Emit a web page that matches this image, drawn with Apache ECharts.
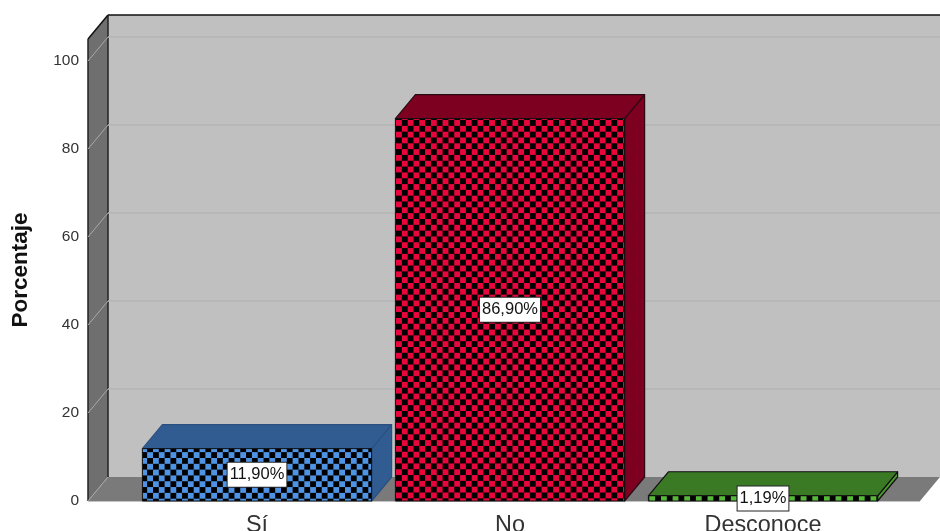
<!DOCTYPE html>
<html><head><meta charset="utf-8">
<style>html,body{margin:0;background:#fff}#c{width:940px;height:531px}</style>
<script src="https://cdn.jsdelivr.net/npm/echarts@6/dist/echarts.min.js"></script></head>
<body><div id="c"></div>
<script>
const categories = ['Sí', 'No', 'Desconoce'];
const values = [11.90, 86.90, 1.19];
const tickValues = [0, 20, 40, 60, 80, 100];
const frontColors = ['#4f94e4', '#e8063c', '#58b83a'];
const topColors = ['#315c92', '#7e0020', '#3a7a24'];
const sideColors = ['#315c92', '#7e0020', '#4c9a30'];
const borderColors = ['#2b5080', '#2a0a12', '#111'];
const patternPhase = [[141.3, 446.3], [396, 120], [649.3, 496]];

const DX = 20, DY = -24, AXIS_GAP = 42.5;

function pattern(color, i) {
  const c = document.createElement('canvas');
  c.width = c.height = 12;
  const g = c.getContext('2d');
  g.fillStyle = '#000'; g.fillRect(0, 0, 12, 12);
  g.fillStyle = color; g.fillRect(0, 0, 6, 6); g.fillRect(6, 6, 6, 6);
  return { image: c, repeat: 'repeat', x: patternPhase[i][0], y: patternPhase[i][1], scaleX: 0.97, scaleY: 0.97 };
}
const patterns = frontColors.map(pattern);

function poly(points, style, z2) {
  return { type: 'polygon', shape: { points }, style, z2: z2 || 0 };
}
function line(x1, y1, x2, y2, stroke, w) {
  return { type: 'line', shape: { x1, y1, x2, y2 }, style: { stroke, lineWidth: w || 1, fill: null } };
}

function renderWalls(params, api) {
  const cs = params.coordSys;
  const L = cs.x - AXIS_GAP, R = 940, T = cs.y, B = cs.y + cs.height, FR = R - 20;
  return { type: 'group', children: [
    poly([[L + DX, T + DY], [R, T + DY], [R, B + DY], [L + DX, B + DY]], { fill: '#c0c0c0' }),
    poly([[L, T], [L + DX, T + DY], [L + DX, B + DY], [L, B]], { fill: '#6f6f6f' }),
    poly([[L, B], [L + DX, B + DY], [R, B + DY], [FR, B]], { fill: '#7a7a7a' }),
    line(L, B + .5, FR, B + .5, '#c4c4c4', 1),
    line(L + DX, T + DY, R, T + DY, '#111', 1.5),
    line(L + DX, T + DY, L + DX, B + DY, '#222', 1.5),
    line(L, T, L + DX, T + DY, '#111', 1.5),
    line(L, T, L, B, '#222', 1.5)
  ]};
}
function renderGrid(params, api) {
  const cs = params.coordSys, L = cs.x - AXIS_GAP, y = api.coord([0, api.value(0)])[1];
  if (api.value(0) === 0) return { type: 'group', children: [line(L, y, L + DX, y + DY, '#a9a9a9', 1)] };
  return { type: 'group', children: [
    line(L, y, L + DX, y + DY, '#a9a9a9', 1),
    line(L + DX, y + DY, 940, y + DY, '#b4b4b4', 1.5)
  ]};
}
function renderBar(params, api) {
  const i = params.dataIndex;
  const [cx, yTop] = api.coord([i, api.value(1)]);
  const yBase = api.coord([i, 0])[1];
  const half = api.size([1, 0])[0] * 0.453;
  const l = cx - half, r = cx + half;
  const bs = { stroke: borderColors[i], lineWidth: 1.2, lineJoin: 'round' };
  return { type: 'group', children: [
    poly([[r, yBase], [r + DX, yBase + DY], [r + DX, yTop + DY], [r, yTop]], Object.assign({ fill: sideColors[i] }, bs)),
    poly([[l, yTop], [l + DX, yTop + DY], [r + DX, yTop + DY], [r, yTop]], Object.assign({ fill: topColors[i] }, bs)),
    { type: 'rect', shape: { x: l, y: yTop, width: r - l, height: yBase - yTop },
      style: Object.assign({ fill: patterns[i] }, bs, { stroke: '#111', lineWidth: 1 }) }
  ]};
}
function renderLabel(params, api) {
  const i = params.dataIndex, v = api.value(1);
  const p = api.coord([i, v / 2]);
  return { type: 'text', z2: 10, style: {
    x: p[0], y: p[1], align: 'center', verticalAlign: 'middle',
    text: v.toFixed(2).replace('.', ',') + '%',
    font: '16.5px "Liberation Sans", Arial, sans-serif', fill: '#111',
    backgroundColor: '#fff', borderColor: '#222', borderWidth: 1, padding: [4, 2, 3, 2]
  }};
}

const chart = echarts.init(document.getElementById('c'), null, { renderer: 'canvas' });
chart.setOption({
  animation: false,
  backgroundColor: '#fff',
  grid: { left: 130.5, width: 759, top: 39, height: 462, outerBoundsMode: 'none' },
  xAxis: { type: 'category', data: categories,
    axisLine: { show: false }, axisTick: { show: false },
    axisLabel: { margin: 13, fontSize: 23.4, color: '#333', fontFamily: '"Liberation Sans", Arial, sans-serif' } },
  yAxis: { type: 'value', min: 0, max: 105, interval: 20, offset: AXIS_GAP,
    name: 'Porcentaje', nameLocation: 'middle', nameGap: 56,
    nameTextStyle: { fontSize: 22.5, fontWeight: 'bold', color: '#111', fontFamily: '"Liberation Sans", Arial, sans-serif' },
    axisLine: { show: false }, axisTick: { show: false }, splitLine: { show: false },
    axisLabel: { margin: 9, fontSize: 15.5, color: '#333', showMaxLabel: false,
      fontFamily: '"Liberation Sans", Arial, sans-serif',
      formatter: v => tickValues.includes(v) ? String(v) : '' } },
  series: [
    { type: 'custom', data: [0], renderItem: renderWalls, z: 1, silent: true },
    { type: 'custom', data: tickValues.map(v => [v]), encode: { y: 0 }, renderItem: renderGrid, z: 2, silent: true },
    { type: 'custom', data: values.map((v, i) => [i, v]), encode: { x: 0, y: 1 }, renderItem: renderBar, z: 3 },
    { type: 'custom', data: values.map((v, i) => [i, v]), encode: { x: 0, y: 1 }, renderItem: renderLabel, z: 4 }
  ]
});
</script></body></html>
